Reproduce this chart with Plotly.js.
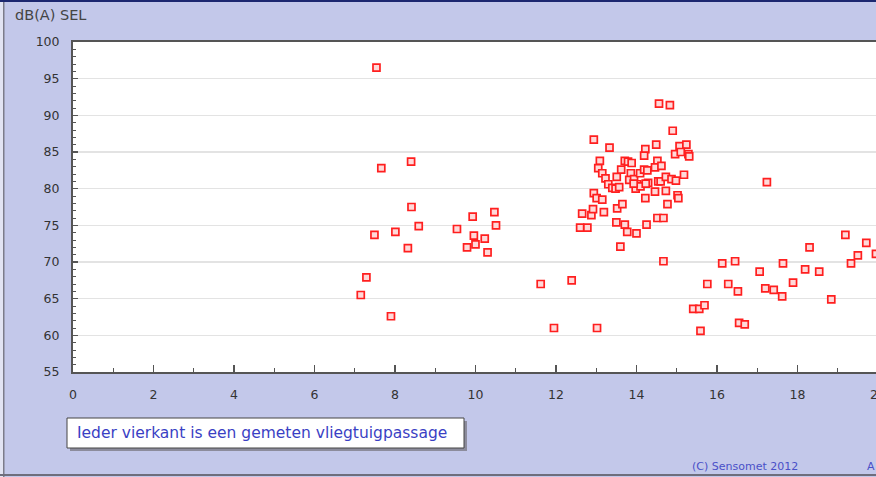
<!DOCTYPE html>
<html><head><meta charset="utf-8">
<script src="https://cdn.plot.ly/plotly-3.0.1.min.js"></script>
<style>html,body{margin:0;padding:0;overflow:hidden;background:#c3c8ea;} #chart{width:882px;height:477px;}</style>
</head><body><div id="chart"></div>
<script>
// Hour of day (x) and SEL in dB(A) (y) for each measured aircraft passage
const hourOfDay = [
  7.54, 8.40, 7.66, 8.41, 8.59, 7.49, 8.01, 8.32, 7.29, 7.15, 7.90,
  9.54, 9.93, 10.47, 10.51, 9.96, 10.23, 9.79, 10.00, 10.30,
  11.62, 12.39, 11.95, 13.02,
  12.60, 12.78, 13.50, 13.71, 13.77, 14.00, 14.25, 13.60, 14.52, 14.67, 14.67,
  14.56, 14.83, 14.90, 12.94, 13.33, 14.49, 14.22, 14.19, 15.07, 15.24, 14.96, 15.10, 15.29, 15.31,
  13.09, 13.05, 13.15, 13.23, 13.30, 13.40, 13.48, 13.57, 13.51, 13.62, 13.71, 13.79, 13.88,
  13.86, 13.82, 13.94, 14.02, 13.98, 14.10, 14.09, 14.19, 14.27, 14.29, 14.46, 14.52, 14.46,
  14.62, 14.54, 14.60, 14.73, 14.73, 14.87, 14.98, 15.18, 15.02, 15.04, 14.77, 14.22,
  12.94, 13.01, 13.15, 12.65, 12.88, 12.92, 13.19, 13.52, 13.65, 14.23, 13.93,
  15.41, 15.56, 15.69, 15.59, 15.76, 16.13, 16.45, 16.28, 16.52, 16.55, 16.69,
  17.06, 17.20, 17.41, 17.62, 17.64, 17.89, 18.19, 18.30, 18.54, 18.84,
  19.19, 19.33, 19.50, 19.71, 19.95, 17.24
];
const selDbA = [
  96.5, 83.7, 82.8, 77.5, 74.9, 73.7, 74.1, 71.9, 67.9, 65.5, 62.6,
  74.5, 76.2, 76.8, 75.0, 73.6, 73.2, 72.0, 72.4, 71.3,
  67.0, 67.5, 61.0, 61.0,
  74.7, 74.7, 75.4, 75.1, 74.1, 73.9, 75.1, 72.1, 76.0, 76.0, 70.1,
  91.6, 91.4, 87.9, 86.7, 85.6, 86.0, 85.4, 84.5, 85.8, 86.0, 84.7, 85.0, 84.7, 84.4,
  83.8, 82.8, 82.1, 81.4, 80.6, 80.1, 80.0, 80.2, 81.6, 82.6, 83.8, 83.7, 83.5,
  82.1, 81.2, 81.3, 80.6, 80.0, 80.3, 82.1, 82.6, 82.5, 80.8, 79.6, 83.8, 82.9,
  83.1, 81.0, 81.0, 81.6, 79.7, 81.3, 81.1, 81.9, 79.1, 78.7, 77.9, 78.7,
  79.4, 78.7, 78.5, 76.6, 76.4, 77.2, 76.8, 77.3, 77.9, 80.7, 80.7,
  63.6, 63.6, 64.1, 60.6, 67.0, 69.8, 70.1, 67.0, 66.0, 61.7, 61.5,
  68.7, 66.4, 66.2, 65.3, 69.8, 67.2, 69.0, 72.0, 68.7, 64.9,
  73.7, 69.8, 70.9, 72.6, 71.1, 80.9
];
const xTickVals = [0, 2, 4, 6, 8, 10, 12, 14, 16, 18, 20];
const yTickVals = [55, 60, 65, 70, 75, 80, 85, 90, 95, 100];
const yAxisTitle = 'dB(A) SEL';
const legendText = 'Ieder vierkant is een gemeten vliegtuigpassage';
const copyrightText = '(C) Sensomet 2012';

const W = 882, H = 477, L = 73, T = 42, B = 105, R = 0;
const pw = W - L - R, ph = H - T - B;
const px = x => (x - L) / pw;
const py = y => (H - B - y) / ph;
const font = 'DejaVu Sans, Verdana, sans-serif';

function rect(x0, y0, x1, y1, fill, line) {
  return {type: 'rect', xref: 'paper', yref: 'paper', layer: 'above',
    x0: px(x0), x1: px(x1), y0: py(y0), y1: py(y1),
    fillcolor: fill, line: line || {width: 0}};
}

const trace = {
  type: 'scatter', mode: 'markers', x: hourOfDay, y: selDbA,
  marker: {symbol: 'square', size: 7, color: '#ffd9d9', line: {color: '#ff1f1f', width: 1.7}},
  hoverinfo: 'x+y', cliponaxis: false
};

const layout = {
  width: W, height: H,
  margin: {l: L, r: R, t: T, b: B, pad: 0},
  paper_bgcolor: '#c3c8ea', plot_bgcolor: '#ffffff',
  showlegend: false,
  xaxis: {
    range: [0, 20.1], tickmode: 'array', tickvals: xTickVals, ticktext: xTickVals.map(String),
    ticks: 'inside', ticklen: 7, tickwidth: 1.2, tickcolor: '#555',
    showline: true, linecolor: '#555', linewidth: 2, mirror: true,
    showgrid: false, zeroline: false,
    minor: {dtick: 1, tick0: 0, ticks: 'inside', ticklen: 4, tickwidth: 1.2, tickcolor: '#555', showgrid: false},
    tickfont: {family: font, size: 12.5, color: '#333'},
    ticklabelstandoff: 10, ticklabeloverflow: 'allow'
  },
  yaxis: {
    range: [55, 100], tickmode: 'array', tickvals: yTickVals, ticktext: yTickVals.map(String),
    ticks: 'inside', ticklen: 5, tickwidth: 1.2, tickcolor: '#555',
    showline: true, linecolor: '#555', linewidth: 2,
    showgrid: true, gridcolor: '#e3e3e3', gridwidth: 1.5, zeroline: false,
    minor: {dtick: 1, tick0: 55, ticks: 'inside', ticklen: 3, tickwidth: 1, tickcolor: '#555', showgrid: false},
    tickfont: {family: font, size: 12.5, color: '#333'},
    ticklabelstandoff: 9
  },
  shapes: [
    rect(0, 0, W, 2, '#1c2770'),
    rect(0, 2, 3, H, '#e2e4f3'),
    rect(3, 2, 4.5, H, '#7c7c8a'),
    rect(0, 474, W, 476, '#6e6e7c'),
    rect(70, 421, 467, 451, '#8c8c9c'),
    rect(67, 418, 464, 448, '#ffffff', {color: '#444', width: 1})
  ],
  annotations: [
    {text: yAxisTitle, xref: 'paper', yref: 'paper', x: px(13), y: py(15),
     xanchor: 'left', yanchor: 'middle', showarrow: false,
     font: {family: font, size: 14.5, color: '#444'}},
    {text: legendText, xref: 'paper', yref: 'paper', x: px(75), y: py(433),
     xanchor: 'left', yanchor: 'middle', showarrow: false,
     font: {family: font, size: 15.5, color: '#3a3fc4'}},
    {text: copyrightText, xref: 'paper', yref: 'paper', x: px(690), y: py(466),
     xanchor: 'left', yanchor: 'middle', showarrow: false,
     font: {family: font, size: 11, color: '#4a50c8'}},
    {text: 'A', xref: 'paper', yref: 'paper', x: px(865), y: py(466),
     xanchor: 'left', yanchor: 'middle', showarrow: false,
     font: {family: font, size: 11, color: '#4a50c8'}}
  ]
};

Plotly.newPlot('chart', [trace], layout, {displayModeBar: false, staticPlot: true});
</script>
</body></html>
